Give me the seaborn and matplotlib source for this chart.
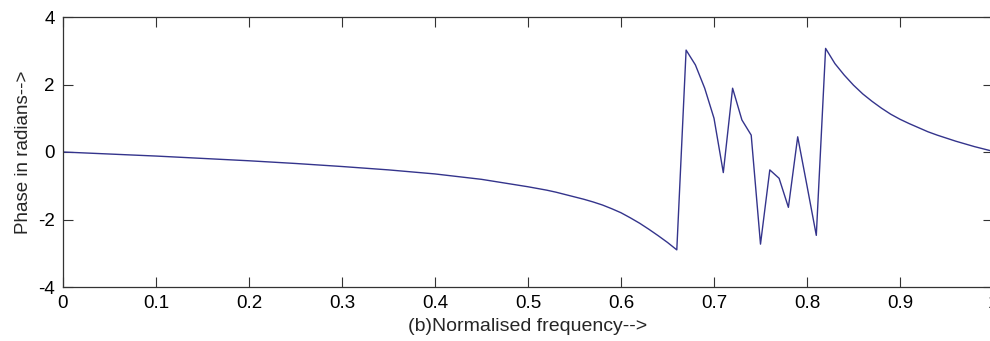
import pandas as pd
import matplotlib
matplotlib.use('Agg')
import matplotlib.pyplot as plt
import seaborn as sns

# normalised frequency / phase (radians)
freq = [0.00, 0.05, 0.10, 0.15, 0.20, 0.25, 0.30, 0.35, 0.40, 0.45,
        0.50, 0.51, 0.52, 0.53, 0.54, 0.55, 0.56, 0.57, 0.58, 0.59,
        0.60, 0.61, 0.62, 0.63, 0.64, 0.65, 0.66, 0.67, 0.68, 0.69,
        0.70, 0.71, 0.72, 0.73, 0.74, 0.75, 0.76, 0.77, 0.78, 0.79,
        0.80, 0.81, 0.82, 0.83, 0.84, 0.85, 0.86, 0.87, 0.88, 0.89,
        0.90, 0.91, 0.92, 0.93, 0.94, 0.95, 0.96, 0.97, 0.98, 0.99, 1.00]
phase = [0.00, -0.06, -0.12, -0.19, -0.26, -0.34, -0.43, -0.53, -0.65, -0.81,
         -1.03, -1.08, -1.13, -1.19, -1.26, -1.33, -1.40, -1.48, -1.57, -1.68,
         -1.80, -1.95, -2.11, -2.29, -2.48, -2.68, -2.90, 3.02, 2.58, 1.89,
         1.00, -0.61, 1.89, 0.95, 0.50, -2.73, -0.53, -0.78, -1.64, 0.45,
         -1.00, -2.47, 3.07, 2.62, 2.28, 1.98, 1.72, 1.50, 1.30, 1.12,
         0.97, 0.84, 0.72, 0.60, 0.50, 0.41, 0.32, 0.24, 0.16, 0.09, 0.02]

xticks = [0, 0.1, 0.2, 0.3, 0.4, 0.5, 0.6, 0.7, 0.8, 0.9, 1]
xticklabels = ['0', '0.1', '0.2', '0.3', '0.4', '0.5', '0.6', '0.7', '0.8', '0.9', '1']
yticks = [-4, -2, 0, 2, 4]

df = pd.DataFrame({'freq': freq, 'phase': phase})

sns.set_style('ticks')
plt.rcParams['font.family'] = ['Liberation Sans', 'DejaVu Sans']
plt.rcParams['axes.unicode_minus'] = False

fig = plt.figure(figsize=(9.9, 3.41), dpi=100)
ax = fig.add_axes([63 / 990, 54 / 341, 930 / 990, 270 / 341])

sns.lineplot(data=df, x='freq', y='phase', ax=ax, color='#34348c', linewidth=1.0)

ax.set_xlim(0, 1)
ax.set_ylim(-4, 4)
ax.set_xticks(xticks)
ax.set_xticklabels(xticklabels)
ax.set_yticks(yticks)
ax.tick_params(axis='both', direction='in', length=7, width=0.8, colors='#333333',
               labelcolor='k', labelsize=13.5, top=True, right=True)
ax.tick_params(axis='x', pad=6)
ax.tick_params(axis='y', pad=6)
for s in ax.spines.values():
    s.set_color('#333333')
    s.set_linewidth(0.9)

ax.set_xlabel('(b)Normalised frequency-->', fontsize=14, labelpad=4)
ax.set_ylabel('Phase in radians-->', fontsize=13.5, labelpad=4)

fig.savefig('out.png', dpi=100)
